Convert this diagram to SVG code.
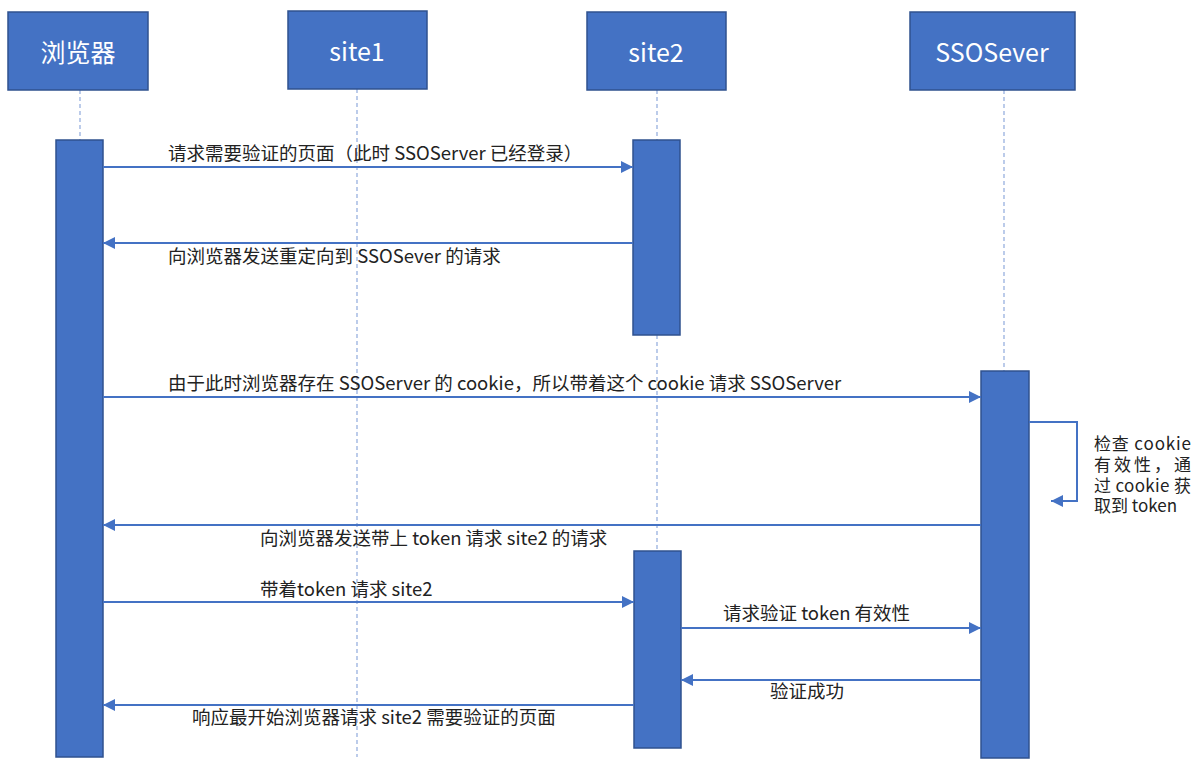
<svg xmlns="http://www.w3.org/2000/svg" width="1200" height="779" viewBox="0 0 1200 779">
<style>
.head{fill:#4472C4;stroke:#2F528F;stroke-width:1.5}
.bar{fill:#4472C4;stroke:#2F528F;stroke-width:1.5}
.ht{fill:#ffffff;font-family:"Noto Sans CJK SC","Liberation Sans",sans-serif;font-size:25px;text-anchor:middle;dominant-baseline:central}
.life{stroke:#8FAADC;stroke-width:1.2;stroke-dasharray:4 3;fill:none}
.msg{stroke:#4472C4;stroke-width:2;fill:none}
.lbl{fill:#222222;font-family:"Noto Sans CJK SC","Liberation Sans",sans-serif;font-size:18.5px;dominant-baseline:central}
.note{fill:#222222;font-family:"Noto Sans CJK SC","Liberation Sans",sans-serif;font-size:17px}
</style>
<defs>
<marker id="ah" viewBox="0 0 12 12" refX="12" refY="6" markerWidth="12" markerHeight="12" markerUnits="userSpaceOnUse" orient="auto">
<path d="M0,0 L12,6 L0,12 Z" fill="#4472C4"/>
</marker>
</defs>
<g id="lifelines">
<line class="life" x1="80" y1="90" x2="80" y2="140"/>
<line class="life" x1="357" y1="89" x2="357" y2="757"/>
<line class="life" x1="657" y1="90" x2="657" y2="140"/>
<line class="life" x1="657" y1="335" x2="657" y2="551"/>
<line class="life" x1="1004" y1="90" x2="1004" y2="371"/>
</g>
<g id="browser">
<rect class="head" x="8" y="12" width="140" height="78"/>
<text class="ht" x="78" y="51">浏览器</text>
<rect class="bar" x="56" y="140" width="47" height="617"/>
</g>
<g id="site1">
<rect class="head" x="288" y="11" width="139" height="78"/>
<text class="ht" x="357" y="50">site1</text>
</g>
<g id="site2">
<rect class="head" x="587" y="12" width="139" height="78"/>
<text class="ht" x="656" y="51">site2</text>
<rect class="bar" x="633" y="140" width="47" height="195"/>
<rect class="bar" x="634" y="551" width="47" height="197"/>
</g>
<g id="ssoserver">
<rect class="head" x="910" y="12" width="165" height="78"/>
<text class="ht" x="992" y="51">SSOSever</text>
<rect class="bar" x="981" y="371" width="48" height="387"/>
</g>
<g id="connectors">
<line class="msg" x1="103" y1="167" x2="633" y2="167" marker-end="url(#ah)"/>
<line class="msg" x1="633" y1="243" x2="103" y2="243" marker-end="url(#ah)"/>
<line class="msg" x1="103" y1="397" x2="981" y2="397" marker-end="url(#ah)"/>
<polyline class="msg" points="1029,422 1077,422 1077,501 1051,501" marker-end="url(#ah)"/>
<line class="msg" x1="981" y1="525" x2="103" y2="525" marker-end="url(#ah)"/>
<line class="msg" x1="103" y1="602" x2="634" y2="602" marker-end="url(#ah)"/>
<line class="msg" x1="681" y1="628" x2="981" y2="628" marker-end="url(#ah)"/>
<line class="msg" x1="981" y1="680" x2="681" y2="680" marker-end="url(#ah)"/>
<line class="msg" x1="634" y1="705" x2="103" y2="705" marker-end="url(#ah)"/>
</g>
<g id="labels">
<text class="lbl" x="168" y="152">请求需要验证的页面（此时 SSOServer 已经登录）</text>
<text class="lbl" x="168" y="255">向浏览器发送重定向到 SSOSever 的请求</text>
<text class="lbl" x="168" y="382">由于此时浏览器存在 SSOServer 的 cookie，所以带着这个 cookie 请求 SSOServer</text>
<text class="note"><tspan x="1094" y="450" textLength="97" lengthAdjust="spacing">检查  cookie</tspan><tspan x="1094" y="471" textLength="97" lengthAdjust="spacing">有效性，通</tspan><tspan x="1094" y="492" textLength="97" lengthAdjust="spacing">过 cookie 获</tspan><tspan x="1094" y="512">取到 token</tspan></text>
<text class="lbl" x="260" y="537">向浏览器发送带上 token 请求 site2 的请求</text>
<text class="lbl" x="260" y="588">带着token 请求 site2</text>
<text class="lbl" x="723" y="612">请求验证 token 有效性</text>
<text class="lbl" x="770" y="690">验证成功</text>
<text class="lbl" x="192" y="716">响应最开始浏览器请求 site2 需要验证的页面</text>
</g>
</svg>
